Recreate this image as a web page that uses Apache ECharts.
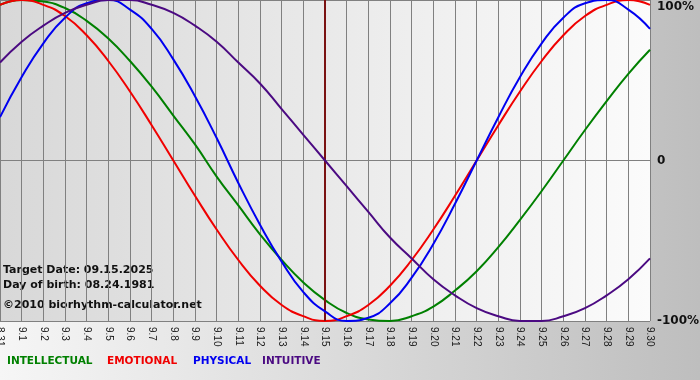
<!DOCTYPE html>
<html>
<head>
<meta charset="utf-8">
<script src="https://cdn.jsdelivr.net/npm/echarts@6/dist/echarts.min.js"></script>
<style>html,body{margin:0;padding:0;}#c{width:700px;height:380px;}</style>
</head>
<body>
<div id="c"></div>
<script>
var days = ['8.31','9.1','9.2','9.3','9.4','9.5','9.6','9.7','9.8','9.9','9.10','9.11','9.12','9.13','9.14','9.15','9.16','9.17','9.18','9.19','9.20','9.21','9.22','9.23','9.24','9.25','9.26','9.27','9.28','9.29','9.30'];
var intellectual = [97,100,99,95,87,76,62,46,28,10,-10,-28,-46,-62,-76,-87,-95,-99,-100,-97,-91,-81,-69,-54,-37,-19,0,19,37,54,69];
var emotional = [97,100,97,90,78,62,43,22,0,-22,-43,-62,-78,-90,-97,-100,-97,-90,-78,-62,-43,-22,0,22,43,62,78,90,97,100,97];
var physical = [27,52,73,89,98,100,94,82,63,40,14,-14,-40,-63,-82,-94,-100,-98,-89,-73,-52,-27,0,27,52,73,89,98,100,94,82];
var intuitive = [61,74,84,92,97,100,100,97,92,84,74,61,48,32,16,0,-16,-32,-48,-61,-74,-84,-92,-97,-100,-100,-97,-92,-84,-74,-61];
var targetDay = '9.15';
var infoLines = ['Target Date: 09.15.2025','Day of birth: 08.24.1981','\u00a92010 biorhythm-calculator.net'];
var legendNames = ['INTELLECTUAL','EMOTIONAL','PHYSICAL','INTUITIVE'];
var colors = {INTELLECTUAL:'#008000', EMOTIONAL:'#f00000', PHYSICAL:'#0000f0', INTUITIVE:'#4b0a82'};
var seriesData = {INTELLECTUAL:intellectual, EMOTIONAL:emotional, PHYSICAL:physical, INTUITIVE:intuitive};

var chart = echarts.init(document.getElementById('c'), null, {renderer:'canvas'});
var font = '"DejaVu Sans", Verdana, sans-serif';
var lfont = '"Liberation Sans", Arial, sans-serif';
var series = legendNames.map(function(n, i){
  return {
    name:n, type:'line', data:seriesData[n], smooth:0.5, showSymbol:false, symbol:'none',
    lineStyle:{color:colors[n], width:2}, itemStyle:{color:colors[n]}, z:3+i, silent:true
  };
});
series.push({
  name:'target', type:'line', data:[], silent:true,
  markLine:{symbol:'none', silent:true, label:{show:false},
    lineStyle:{color:'#7a1212', width:2, type:'solid'},
    data:[{xAxis:targetDay}]}, z:2
});
var legendX = [7, 107, 193, 262];
var legendGraphics = legendNames.map(function(n, i){
  return {type:'text', left:legendX[i], top:356, style:{text:n, fill:colors[n], font:'bold 10.5px '+font}};
});
chart.setOption({
  animation:false,
  backgroundColor:{type:'linear',x:0,y:0,x2:1,y2:0,colorStops:[{offset:0,color:'#f6f6f6'},{offset:1,color:'#bebebe'}]},
  grid:{left:0, right:50, top:0, bottom:59, show:true, borderWidth:0, outerBoundsMode:'none', containLabel:false,
    backgroundColor:{type:'linear',x:0,y:0,x2:1,y2:0,colorStops:[{offset:0,color:'#d8d8d8'},{offset:1,color:'#fbfbfb'}]}},
  xAxis:{type:'category', data:days, boundaryGap:false,
    axisLine:{show:true, lineStyle:{color:'#808080', width:1}},
    axisTick:{show:true, length:5, lineStyle:{color:'#808080'}},
    splitLine:{show:true, lineStyle:{color:'#808080', width:1}},
    axisLabel:{rotate:-90, margin:6, fontSize:10, color:'#1a1a1a', fontFamily:lfont, interval:0}
  },
  yAxis:{type:'value', position:'right', min:-100, max:100, interval:100,
    axisLine:{show:false}, axisTick:{show:false},
    splitLine:{show:true, lineStyle:{color:'#808080', width:1}},
    axisLabel:{margin:7, color:'#111', fontSize:12, fontWeight:'bold', fontFamily:font,
      formatter:function(v){ if(v===100) return '{t|100%}'; return v===0 ? '0' : v+'%'; },
      rich:{t:{padding:[14,0,0,0], fontSize:12, fontWeight:'bold', color:'#111', fontFamily:font}}}
  },
  series:series,
  graphic:[
    {type:'text', left:3, top:265, style:{text:infoLines[0], fill:'#111', font:'bold 11px '+font}},
    {type:'text', left:3, top:280, style:{text:infoLines[1], fill:'#111', font:'bold 11px '+font}},
    {type:'text', left:3, top:300, style:{text:infoLines[2], fill:'#111', font:'bold 11px '+font}}
  ].concat(legendGraphics)
});
</script>
</body>
</html>
